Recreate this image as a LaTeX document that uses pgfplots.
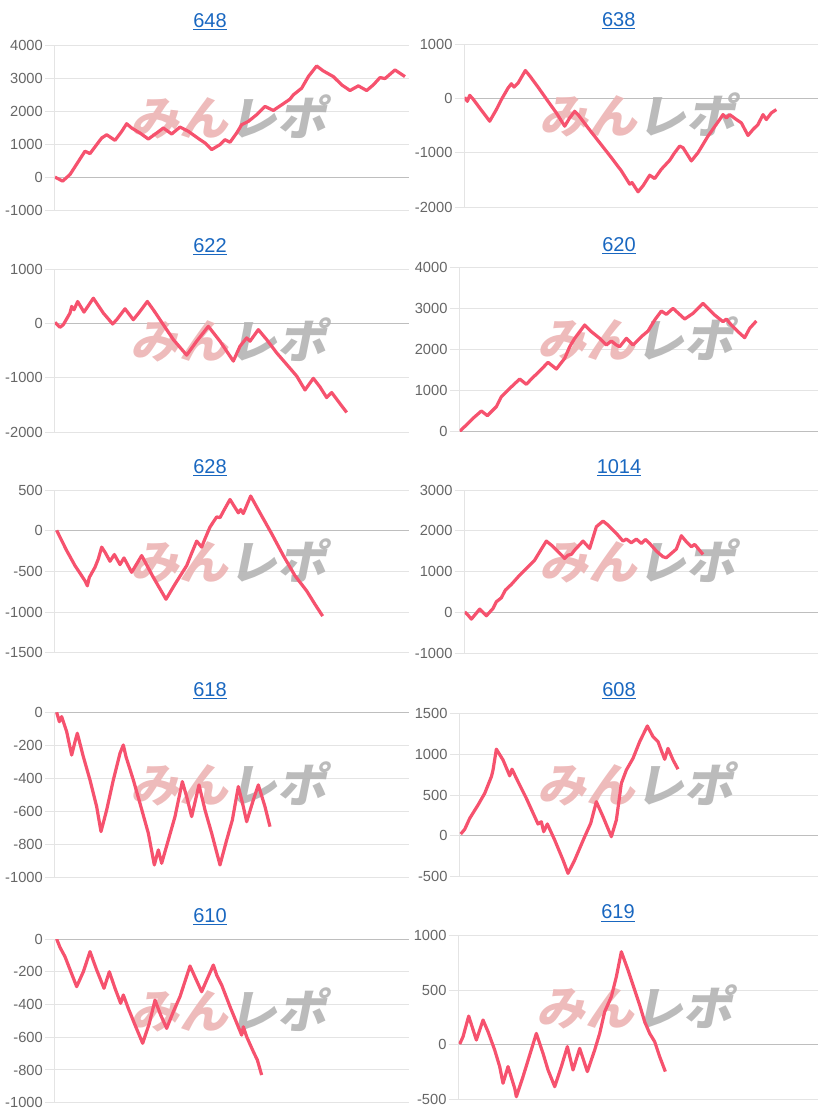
\documentclass[border=0pt]{standalone}
\usepackage{fontspec}
\setmainfont{Liberation Sans}
\newfontfamily\jp{Noto Sans CJK JP}
\usepackage{pgfplots}
\pgfplotsset{compat=1.18}
\newlength\px \setlength\px{0.75pt}
\definecolor{linec}{RGB}{246,82,110}
\definecolor{gridc}{RGB}{228,228,228}
\definecolor{zeroc}{RGB}{190,190,190}
\definecolor{tickc}{RGB}{102,102,102}
\definecolor{titlec}{RGB}{25,103,192}
\definecolor{wmpink}{RGB}{236,180,180}
\definecolor{wmgrey}{RGB}{180,180,180}
\pgfplotsset{
 panel/.style={
  scale only axis,
  anchor=south west,
  axis x line=none,
  axis y line*=left,
  y axis line style={draw=gridc, line width=1\px},
  ymajorgrids,
  grid style={draw=gridc, line width=1\px},
  tick align=outside,
  major tick length=10\px,
  ytick style={draw=gridc, line width=1\px},
  yticklabel style={font=\fontsize{11}{13}\selectfont, text=tickc, inner sep=2\px},
  /pgf/number format/assume math mode=true,
  /pgf/number format/1000 sep={},
  xtick=\empty,
  extra y ticks={0},
  extra y tick labels={},
  extra y tick style={grid style={draw=zeroc, line width=1\px}, tick style={draw=zeroc}},
 },
 ln/.style={linec, line width=3.2\px, line join=round, mark=none},
}
\tikzset{
 wm/.style={font=\jp\bfseries\fontsize{35}{35}\selectfont, xslant=0.2, xscale=1.05, inner sep=0pt, opacity=0.9},
 ttl/.style={font=\fontsize{15}{18}\selectfont, text=titlec, inner sep=0pt},
}
\newcommand{\wmark}{\node[wm] at (rel axis cs:0.5,0.565) {\textcolor{wmpink}{みん}\textcolor{wmgrey}{レポ}};}
\begin{document}
\begin{tikzpicture}
\useasboundingbox (0,0) rectangle (818\px,-1115\px);
% titles
\node[ttl] at (210\px,-22\px) {\underline{648}};
\node[ttl] at (618.7\px,-20.7\px) {\underline{638}};
\node[ttl] at (210\px,-246.7\px) {\underline{622}};
\node[ttl] at (619\px,-245.7\px) {\underline{620}};
\node[ttl] at (210\px,-467.7\px) {\underline{628}};
\node[ttl] at (619\px,-467.7\px) {\underline{1014}};
\node[ttl] at (210\px,-690.7\px) {\underline{618}};
\node[ttl] at (619\px,-690.7\px) {\underline{608}};
\node[ttl] at (210\px,-916.7\px) {\underline{610}};
\node[ttl] at (618\px,-913.3\px) {\underline{619}};

% 648
\begin{axis}[panel, at={(55\px,-210\px)}, width=354\px, height=164.3\px,
  xmin=165, xmax=1227, ymin=-1000, ymax=4000, ytick={-1000,0,1000,2000,3000,4000}]
\wmark
\addplot[ln] coordinates {(165,0)(188,-120)(210,80)(255,790)(270,717)(290,990)(305,1190)(320,1290)(345,1120)(365,1390)(380,1626)(395,1495)(420,1343)(445,1160)(470,1343)(490,1495)(515,1313)(540,1525)(565,1394)(600,1141)(615,1040)(635,838)(660,990)(675,1141)(690,1060)(710,1343)(725,1596)(745,1697)(770,1900)(795,2152)(820,2030)(845,2200)(870,2374)(880,2505)(905,2707)(925,3060)(950,3384)(970,3232)(1000,3060)(1025,2808)(1050,2636)(1075,2778)(1100,2636)(1120,2808)(1140,3030)(1155,3000)(1185,3263)(1215,3060)};
\end{axis}

% 638
\begin{axis}[panel, at={(464.7\px,-207\px)}, width=353.3\px, height=163\px,
  xmin=170, xmax=1230, ymin=-2000, ymax=1000, ytick={-2000,-1000,0,1000}]
\wmark
\addplot[ln] coordinates {(170,18)(178,-55)(185,55)(195,-12)(215,-177)(245,-421)(265,-207)(280,-24)(300,189)(310,268)(318,207)(330,280)(352,512)(365,415)(390,207)(420,-55)(445,-268)(470,-512)(485,-360)(500,-238)(510,-299)(540,-543)(575,-817)(610,-1091)(640,-1335)(665,-1579)(672,-1550)(690,-1720)(705,-1610)(725,-1415)(740,-1476)(760,-1305)(785,-1140)(800,-1000)(815,-878)(825,-908)(850,-1152)(870,-1000)(900,-695)(935,-390)(945,-299)(955,-360)(965,-299)(985,-390)(1000,-451)(1020,-683)(1035,-573)(1050,-482)(1065,-299)(1075,-390)(1090,-268)(1105,-207)};
\end{axis}

% 622
\begin{axis}[panel, at={(55\px,-432\px)}, width=354\px, height=163\px,
  xmin=165, xmax=1227, ymin=-2000, ymax=1000, ytick={-2000,-1000,0,1000}]
\wmark
\addplot[ln] coordinates {(165,18)(180,-73)(190,-24)(210,189)(215,311)(222,250)(233,402)(252,207)(280,463)(310,189)(338,-12)(350,67)(375,268)(400,67)(420,220)(442,402)(460,250)(490,-24)(520,-299)(560,-585)(590,-329)(625,-55)(660,-329)(700,-695)(720,-421)(740,-268)(750,-329)(775,-116)(800,-299)(830,-543)(860,-756)(890,-970)(915,-1226)(940,-1012)(960,-1171)(980,-1366)(995,-1274)(1010,-1396)(1040,-1640)};
\end{axis}

% 620
\begin{axis}[panel, at={(459.7\px,-431.3\px)}, width=358.3\px, height=163.6\px,
  xmin=155, xmax=1230, ymin=0, ymax=4000, ytick={0,1000,2000,3000,4000}]
\wmark
\addplot[ln] coordinates {(155,0)(175,155)(195,318)(220,497)(238,383)(250,481)(265,603)(280,847)(300,1010)(335,1279)(355,1149)(370,1279)(395,1475)(420,1686)(445,1523)(470,1784)(485,2069)(500,2273)(530,2599)(550,2436)(575,2273)(595,2110)(610,2208)(625,2110)(635,2069)(655,2273)(675,2110)(700,2314)(720,2452)(740,2721)(760,2941)(775,2860)(795,3006)(830,2745)(855,2884)(885,3128)(920,2843)(945,2680)(955,2745)(970,2599)(990,2436)(1010,2289)(1025,2517)(1045,2697)};
\end{axis}

% 628
\begin{axis}[panel, at={(55\px,-652.7\px)}, width=354\px, height=162.7\px,
  xmin=165, xmax=1227, ymin=-1500, ymax=500, ytick={-1500,-1000,-500,0,500}]
\wmark
\addplot[ln] coordinates {(170,4)(180,-79)(200,-244)(225,-430)(255,-616)(262,-678)(268,-574)(285,-450)(295,-347)(305,-202)(315,-264)(330,-376)(343,-293)(360,-417)(372,-335)(395,-512)(425,-306)(460,-574)(498,-843)(525,-657)(560,-430)(575,-277)(590,-128)(605,-202)(615,-99)(630,45)(650,169)(660,160)(672,252)(690,384)(715,219)(722,260)(730,211)(752,426)(780,219)(815,-37)(850,-306)(885,-554)(895,-607)(920,-740)(945,-905)(968,-1050)};
\end{axis}

% 1014
\begin{axis}[panel, at={(464.7\px,-653.7\px)}, width=353.3\px, height=163.7\px,
  xmin=170, xmax=1230, ymin=-1000, ymax=3000, ytick={-1000,0,1000,2000,3000}]
\wmark
\addplot[ln] coordinates {(170,24)(180,-57)(190,-155)(200,-57)(215,90)(235,-73)(255,106)(265,269)(280,367)(292,554)(310,693)(335,921)(355,1084)(380,1288)(400,1557)(415,1752)(430,1654)(455,1451)(470,1328)(480,1410)(490,1426)(500,1532)(525,1752)(545,1573)(565,2103)(585,2241)(600,2143)(625,1940)(645,1752)(655,1801)(670,1711)(685,1801)(700,1695)(712,1793)(725,1695)(745,1508)(765,1369)(775,1345)(790,1451)(805,1557)(820,1883)(835,1736)(850,1614)(860,1671)(885,1426)};
\end{axis}

% 618
\begin{axis}[panel, at={(55\px,-877.3\px)}, width=354\px, height=165\px,
  xmin=165, xmax=1227, ymin=-1000, ymax=0, ytick={-1000,-800,-600,-400,-200,0}]
\wmark
\addplot[ln] coordinates {(170,0)(178,-57)(185,-26)(200,-117)(215,-259)(225,-178)(232,-127)(250,-269)(270,-410)(290,-572)(303,-723)(320,-592)(340,-410)(360,-248)(370,-198)(378,-269)(400,-410)(420,-552)(445,-733)(463,-925)(475,-834)(485,-915)(505,-774)(525,-632)(547,-420)(560,-511)(575,-632)(597,-440)(615,-592)(635,-733)(660,-925)(680,-774)(697,-653)(715,-450)(730,-572)(740,-663)(760,-531)(775,-440)(795,-572)(810,-693)};
\end{axis}

% 608
\begin{axis}[panel, at={(459.7\px,-876.7\px)}, width=358.3\px, height=163.4\px,
  xmin=155, xmax=1230, ymin=-500, ymax=1500, ytick={-500,0,500,1000,1500}]
\wmark
\addplot[ln] coordinates {(158,22)(170,80)(185,214)(210,378)(230,520)(250,724)(255,806)(265,1061)(285,929)(305,735)(312,816)(330,663)(355,459)(380,235)(390,145)(400,173)(407,51)(418,145)(440,-51)(465,-296)(480,-459)(500,-296)(530,-10)(548,153)(565,418)(585,235)(610,-10)(625,194)(640,643)(655,806)(675,949)(695,1153)(718,1345)(735,1214)(750,1153)(770,937)(780,1071)(795,929)(810,816)};
\end{axis}

% 610
\begin{axis}[panel, at={(55\px,-1102.7\px)}, width=354\px, height=163.7\px,
  xmin=165, xmax=1227, ymin=-1000, ymax=0, ytick={-1000,-800,-600,-400,-200,0}]
\wmark
\addplot[ln] coordinates {(170,0)(180,-51)(195,-108)(230,-291)(250,-200)(270,-77)(290,-189)(312,-301)(328,-200)(345,-301)(362,-393)(370,-342)(385,-424)(405,-525)(428,-637)(448,-515)(465,-373)(482,-464)(500,-546)(520,-444)(540,-352)(570,-165)(605,-322)(620,-251)(640,-159)(650,-220)(665,-281)(690,-413)(725,-587)(730,-536)(740,-597)(760,-688)(772,-739)(785,-831)};
\end{axis}

% 619
\begin{axis}[panel, at={(458.7\px,-1099.3\px)}, width=359.3\px, height=163.6\px,
  xmin=152, xmax=1230, ymin=-500, ymax=1000, ytick={-500,0,500,1000}]
\wmark
\addplot[ln] coordinates {(155,7)(165,74)(182,263)(205,44)(225,227)(240,120)(260,-48)(275,-200)(285,-353)(300,-200)(320,-399)(325,-476)(345,-292)(365,-94)(385,104)(405,-79)(420,-231)(440,-384)(460,-200)(478,-17)(495,-231)(515,-33)(538,-246)(560,-48)(575,104)(590,303)(610,441)(625,624)(640,853)(660,685)(680,502)(695,364)(710,211)(725,104)(740,28)(755,-109)(772,-246)};
\end{axis}
\end{tikzpicture}
\end{document}
